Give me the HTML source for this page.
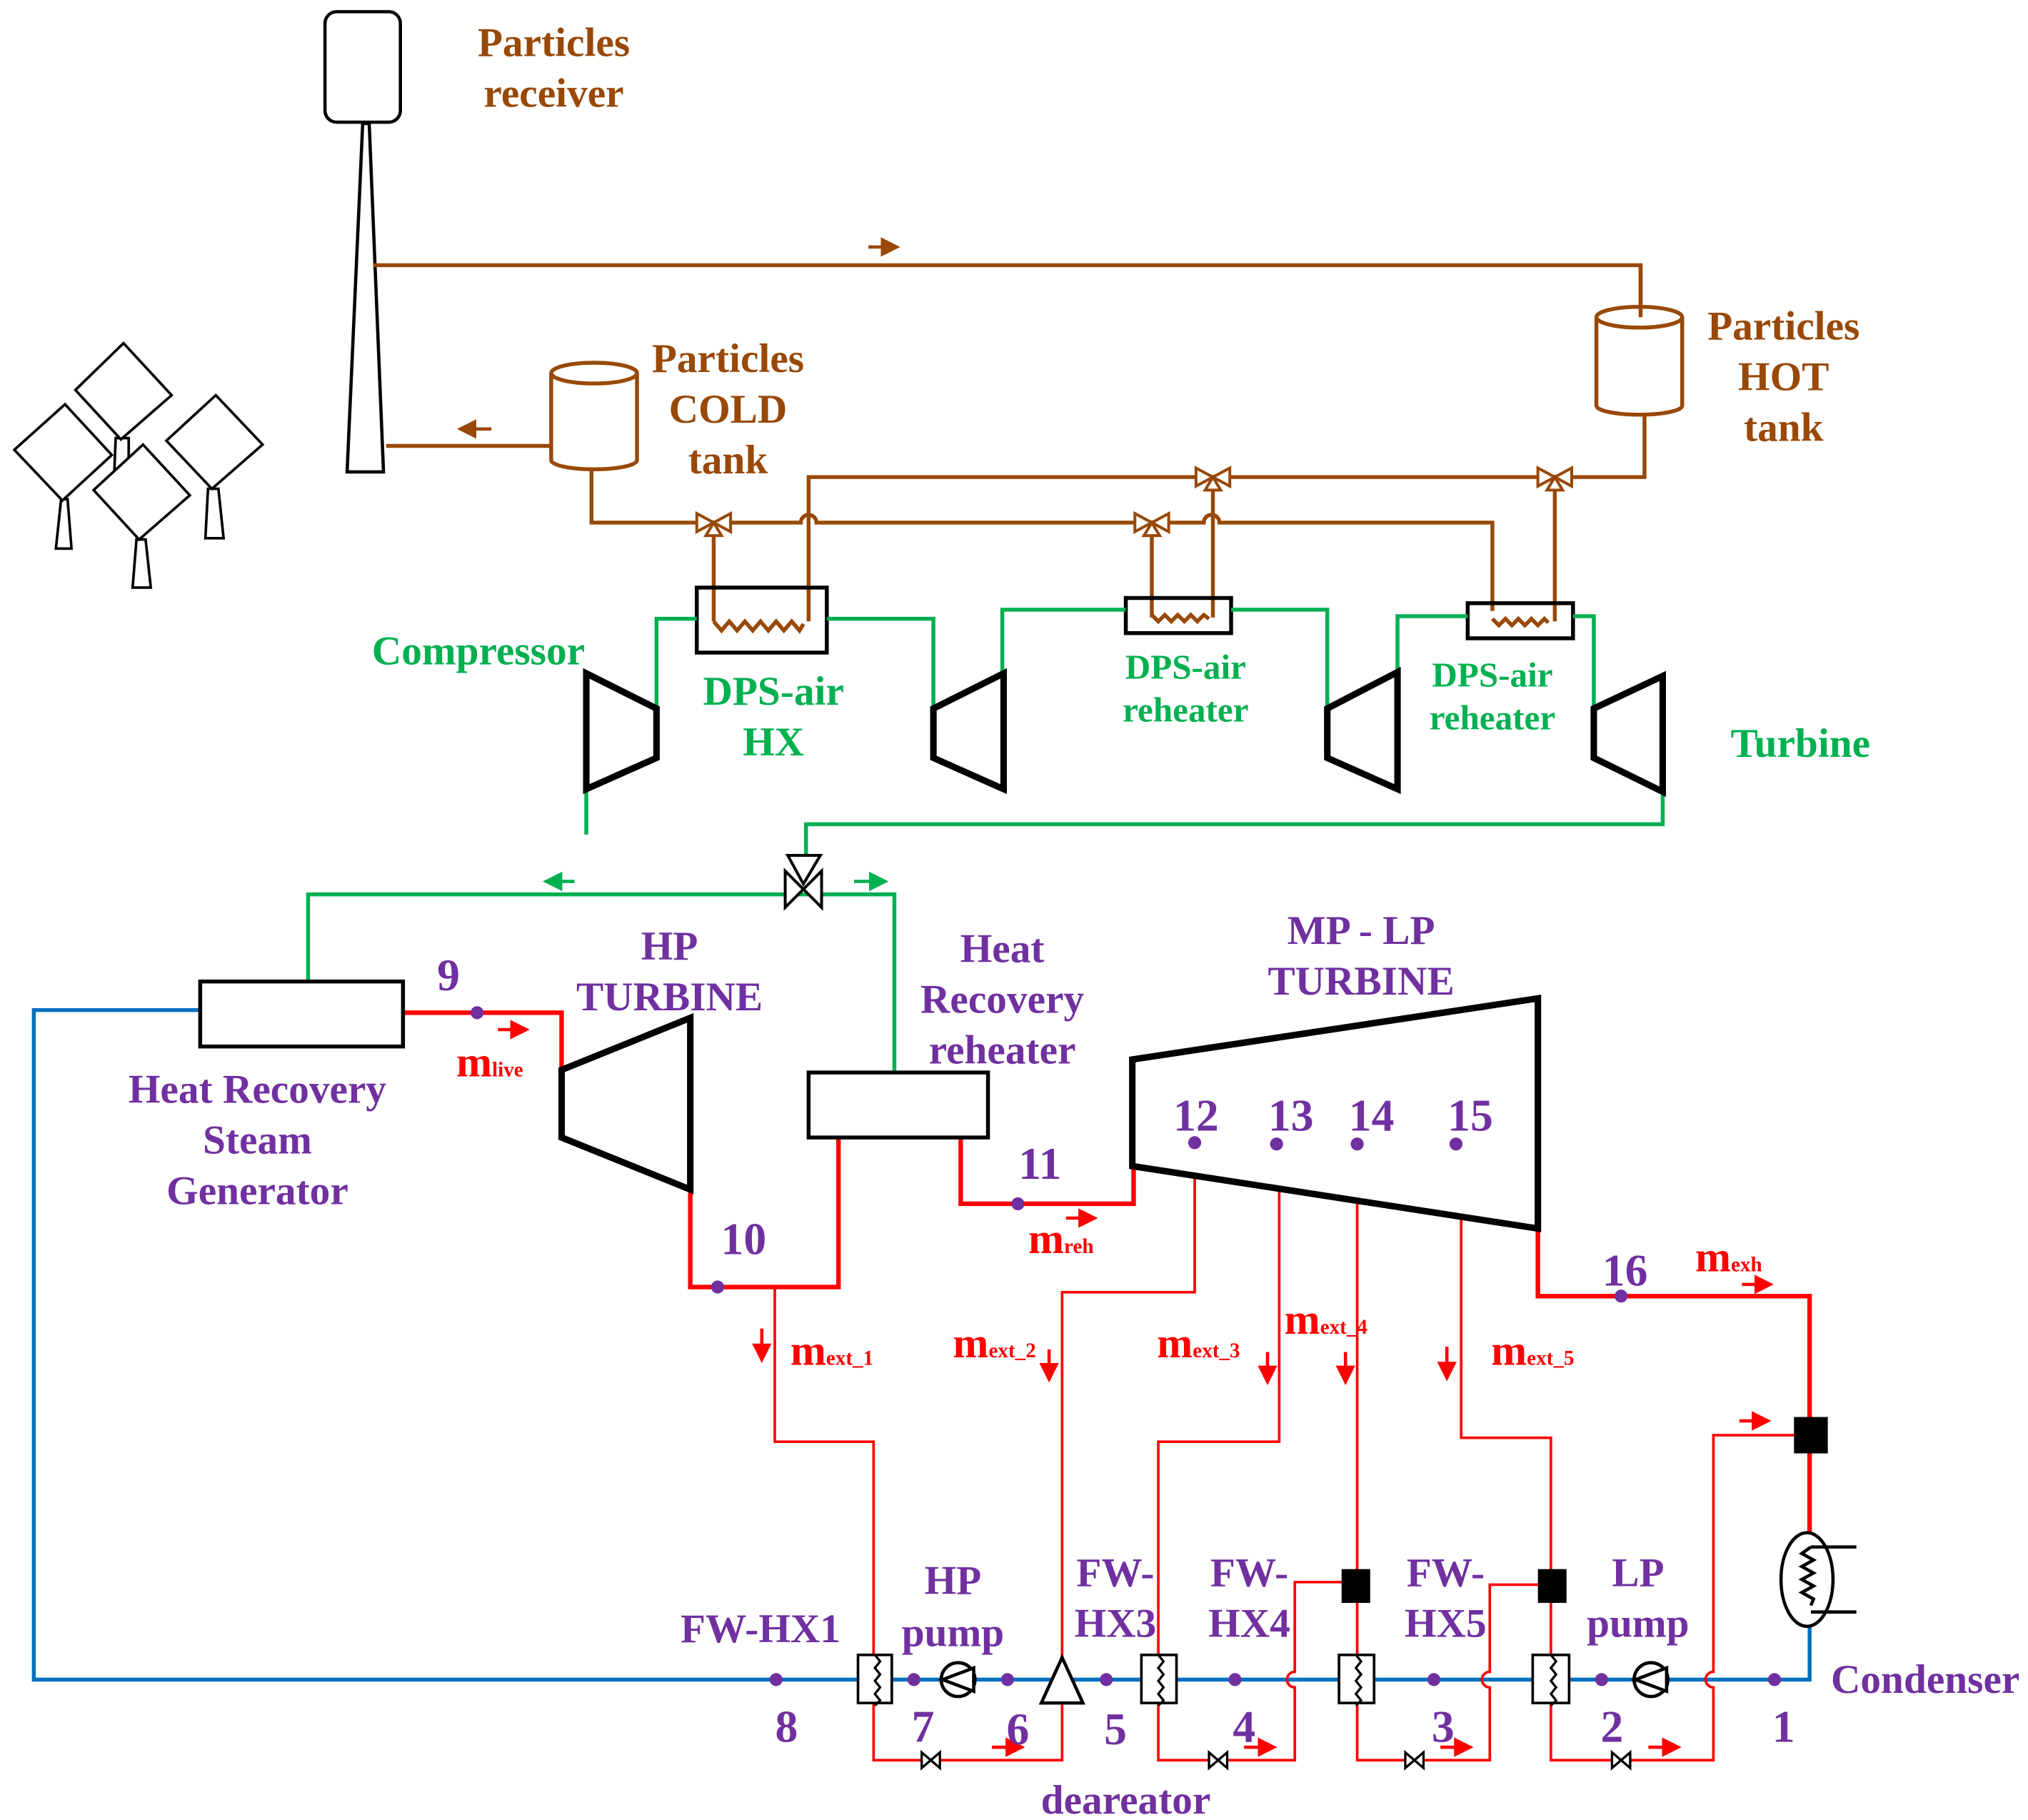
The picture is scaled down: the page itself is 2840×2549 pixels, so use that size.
<!DOCTYPE html>
<html><head><meta charset="utf-8"><style>
html,body{margin:0;padding:0;background:#fff;}
svg{display:block;}
text{font-family:"Liberation Serif",serif;font-weight:bold;}
</style></head><body>
<svg width="2840" height="2549" viewBox="0 0 1560 1400" preserveAspectRatio="none" xmlns="http://www.w3.org/2000/svg">
<defs>
<marker id="ar" markerWidth="6" markerHeight="6" refX="5" refY="3" orient="auto" markerUnits="strokeWidth"><path d="M0,0 L6,3 L0,6 z" fill="context-stroke"/></marker>
</defs>
<rect width="1560" height="1400" fill="#fff"/>

<!-- heliostats -->
<g stroke="#000" stroke-width="2" fill="#fff">
<polygon points="89,337 99,337 99,361 88,361"/>
<polygon points="95,264 132,304 93,338 58,300"/>
<polygon points="47,384 52,384 55,422 43,422"/>
<polygon points="50,311 86,350 48,385 11,346"/>
<polygon points="160,376 168,376 172,414 158,414"/>
<polygon points="166,304 202,342 163,376 128,339"/>
<polygon points="105,415 112,415 116,452 102,452"/>
<polygon points="110,342 146,381 107,415 72,377"/>
</g>

<!-- receiver + tower -->
<rect x="250" y="9" width="58" height="85" rx="9" fill="#fff" stroke="#000" stroke-width="2.5"/>
<polygon points="279,95 284,95 295,363 267,363" fill="#fff" stroke="#000" stroke-width="2.5"/>

<!-- brown particle loop -->
<g stroke="#984807" stroke-width="3" fill="none">
<path d="M287,204 H1262 V240"/>
<path d="M297,343 H425"/>
<path d="M455,362 V402 H616 A6,6 0 0 1 628,402 H926 A6,6 0 0 1 938,402 H1148 V470"/>
<path d="M1265,320 V367 H622 V478"/>
<path d="M549,402 V478"/>
<path d="M886,402 V475"/>
<path d="M933,367 V475"/>
<path d="M1196,367 V478"/>
<path d="M549,478 l6,7 6,-7 6,7 6,-7 6,7 6,-7 6,7 6,-7 6,7 6,-7 6,7 3,-5"/>
<path d="M886,473 l5,5 5,-5 5,5 5,-5 5,5 5,-5 5,5 5,-5 4,3"/>
<path d="M1148,476 l5,5 5,-5 5,5 5,-5 5,5 5,-5 5,5 5,-5 3,3"/>
<path d="M424,287 V354 A33,7 0 0 0 490,354 V287" fill="#fff"/>
<ellipse cx="457" cy="287" rx="33" ry="8" fill="#fff"/>
<path d="M1228,244 V312 A33,7 0 0 0 1294,312 V244" fill="#fff"/>
<ellipse cx="1261" cy="244" rx="33" ry="8" fill="#fff"/>
<path d="M1262,204 V244"/>
</g>
<g stroke="#984807" stroke-width="2.5" fill="#984807">
<path d="M668,190 H690" marker-end="url(#ar)"/>
<path d="M378,330 H354" marker-end="url(#ar)"/>
</g>
<g stroke="#984807" stroke-width="2.2" fill="#fff">
<g transform="translate(549,402)"><polygon points="-13,-7 13,7 13,-7 -13,7"/><polygon points="0,0 6,10 -6,10"/></g>
<g transform="translate(886,402)"><polygon points="-13,-7 13,7 13,-7 -13,7"/><polygon points="0,0 6,10 -6,10"/></g>
<g transform="translate(933,367)"><polygon points="-13,-7 13,7 13,-7 -13,7"/><polygon points="0,0 6,10 -6,10"/></g>
<g transform="translate(1196,367)"><polygon points="-13,-7 13,7 13,-7 -13,7"/><polygon points="0,0 6,10 -6,10"/></g>
</g>

<g stroke="#000" stroke-width="3" fill="none">
<rect x="536" y="452" width="100" height="50"/>
<rect x="866" y="460" width="81" height="27"/>
<rect x="1129" y="464" width="81" height="27"/>
</g>

<!-- green air loop -->
<g stroke="#00B050" stroke-width="3" fill="none">
<path d="M505,548 V476 H536"/>
<path d="M636,476 H718 V545"/>
<path d="M771,518 V469 H866"/>
<path d="M947,469 H1021 V545"/>
<path d="M1075,517 V474 H1129"/>
<path d="M1210,474 H1226 V545"/>
<path d="M1279,609 V634 H620 V660"/>
<path d="M451,607 V642"/>
<path d="M237,755 V688 H688 V825"/>
</g>
<g stroke="#00B050" stroke-width="2.5" fill="#00B050">
<path d="M442,678 H420" marker-end="url(#ar)"/>
<path d="M657,678 H681" marker-end="url(#ar)"/>
</g>
<g stroke="#000" stroke-width="5" fill="none">
<polygon points="451,518 505,545 505,583 451,607"/>
<polygon points="718,545 772,518 772,607 718,583"/>
<polygon points="1021,545 1075,517 1075,607 1021,583"/>
<polygon points="1226,545 1279,520 1279,609 1226,583"/>
</g>
<g stroke="#000" stroke-width="2.2" fill="#fff">
<polygon points="606,658 631,658 618,680"/>
<polygon points="604,670 632,698 632,670 604,698"/>
</g>

<!-- blue water line -->
<path d="M154,777 H26 V1292 H1392 V1250" stroke="#0070C0" stroke-width="3" fill="none"/>

<!-- red steam -->
<g stroke="#FF0000" stroke-width="3.5" fill="none">
<path d="M310,779 H432 V823"/>
<path d="M531,915 V990 H645 V875"/>
<path d="M739,875 V926 H872 V897"/>
<path d="M1183,945 V997 H1392 V1092"/>
<path d="M1392,1118 V1180"/>
</g>
<g stroke="#FF0000" stroke-width="2" fill="none">
<path d="M596,990 V1109 H672 V1354 H817 V1310"/>
<path d="M919,903 V994 H817 V1275"/>
<path d="M984,912 V1109 H891 V1354 H996 V1298 A6,6 0 0 1 996,1286 V1217 H1032"/>
<path d="M1044,925 V1354 H1146 V1298 A6,6 0 0 1 1146,1286 V1219 H1183"/>
<path d="M1124,938 V1106 H1193 V1354 H1318 V1298 A6,6 0 0 1 1318,1286 V1104 H1380"/>
</g>
<g stroke="#FF0000" stroke-width="2.5" fill="#FF0000">
<path d="M383,792 H405" marker-end="url(#ar)"/>
<path d="M820,937 H842" marker-end="url(#ar)"/>
<path d="M1340,988 H1362" marker-end="url(#ar)"/>
<path d="M1338,1093 H1360" marker-end="url(#ar)"/>
<path d="M586,1022 V1046" marker-end="url(#ar)"/>
<path d="M807,1038 V1061" marker-end="url(#ar)"/>
<path d="M975,1040 V1063" marker-end="url(#ar)"/>
<path d="M1035,1040 V1063" marker-end="url(#ar)"/>
<path d="M1113,1036 V1060" marker-end="url(#ar)"/>
<path d="M763,1344 H786" marker-end="url(#ar)"/>
<path d="M957,1344 H980" marker-end="url(#ar)"/>
<path d="M1108,1344 H1131" marker-end="url(#ar)"/>
<path d="M1268,1344 H1291" marker-end="url(#ar)"/>
</g>

<g stroke="#000" stroke-width="3" fill="#fff">
<rect x="154" y="755" width="156" height="50"/>
<rect x="622" y="825" width="138" height="50"/>
</g>
<g stroke="#000" stroke-width="5" fill="none">
<polygon points="432,823 531,783 531,915 432,875"/>
<polygon points="871,815 1183,768 1183,945 871,897"/>
</g>
<g fill="#000">
<rect x="1032" y="1207" width="22" height="26"/>
<rect x="1183" y="1207" width="22" height="26"/>
<rect x="1380" y="1090" width="26" height="28"/>
</g>
<g stroke="#000" stroke-width="2.5" fill="#fff">
<ellipse cx="1390" cy="1215" rx="20" ry="36"/>
<path d="M1393,1190 H1428 M1393,1240 H1428" fill="none"/>
<path d="M1393,1190 l-7,5 9,5 -9,5 9,5 -9,5 9,5 -9,5 9,5 -2,5" fill="none"/>
</g>
<g stroke="#000" stroke-width="2" fill="#fff">
<rect x="660" y="1273" width="26" height="37"/>
<rect x="878" y="1273" width="27" height="37"/>
<rect x="1030" y="1273" width="27" height="37"/>
<rect x="1179" y="1273" width="28" height="37"/>
</g>
<g stroke="#000" stroke-width="1.8" fill="none">
<path d="M673,1273 l4,5 -4,5 4,5 -4,5 4,5 -4,5 4,5 -4,4"/>
<path d="M891,1273 l4,5 -4,5 4,5 -4,5 4,5 -4,5 4,5 -4,4"/>
<path d="M1043,1273 l4,5 -4,5 4,5 -4,5 4,5 -4,5 4,5 -4,4"/>
<path d="M1193,1273 l4,5 -4,5 4,5 -4,5 4,5 -4,5 4,5 -4,4"/>
</g>
<g stroke="#000" stroke-width="2.5" fill="#fff">
<circle cx="737" cy="1292" r="13"/>
<polygon points="725,1292 749,1283 749,1301"/>
<circle cx="1270" cy="1292" r="13"/>
<polygon points="1258,1292 1282,1283 1282,1301"/>
<polygon points="801,1310 833,1310 817,1275"/>
</g>
<g stroke="#000" stroke-width="1.8" fill="#fff">
<polygon points="709,1348 723,1360 723,1348 709,1360"/>
<polygon points="930,1348 944,1360 944,1348 930,1360"/>
<polygon points="1081,1348 1095,1360 1095,1348 1081,1360"/>
<polygon points="1240,1348 1254,1360 1254,1348 1240,1360"/>
</g>

<g fill="#7030A0">
<circle cx="367" cy="779" r="5"/><circle cx="552" cy="990" r="5"/><circle cx="783" cy="926" r="5"/>
<circle cx="919" cy="879" r="5"/><circle cx="982" cy="880" r="5"/><circle cx="1044" cy="880" r="5"/><circle cx="1120" cy="880" r="5"/>
<circle cx="1247" cy="997" r="5"/>
<circle cx="597" cy="1292" r="5"/><circle cx="703" cy="1292" r="5"/><circle cx="775" cy="1292" r="5"/><circle cx="851" cy="1292" r="5"/>
<circle cx="950" cy="1292" r="5"/><circle cx="1103" cy="1292" r="5"/><circle cx="1232" cy="1292" r="5"/><circle cx="1365" cy="1292" r="5"/>
</g>

<g fill="#984807" font-size="31.5" text-anchor="middle" dominant-baseline="central">
<text x="426" y="33">Particles</text><text x="426" y="72">receiver</text>
<text x="560" y="276">Particles</text><text x="560" y="315">COLD</text><text x="560" y="354">tank</text>
<text x="1372" y="251">Particles</text><text x="1372" y="290">HOT</text><text x="1372" y="329">tank</text>
</g>
<g fill="#00B050" text-anchor="middle" dominant-baseline="central">
<text x="368" y="501" font-size="31.5">Compressor</text>
<text x="595" y="532" font-size="31.5">DPS-air</text><text x="595" y="571" font-size="31.5">HX</text>
<text x="912" y="513" font-size="27">DPS-air</text><text x="912" y="546" font-size="27">reheater</text>
<text x="1148" y="519" font-size="27">DPS-air</text><text x="1148" y="552" font-size="27">reheater</text>
<text x="1385" y="572" font-size="31.5">Turbine</text>
</g>
<g fill="#7030A0" font-size="31.5" text-anchor="middle" dominant-baseline="central">
<text x="515" y="728">HP</text><text x="515" y="767">TURBINE</text>
<text x="771" y="730">Heat</text><text x="771" y="769">Recovery</text><text x="771" y="808">reheater</text>
<text x="198" y="838">Heat Recovery</text><text x="198" y="877">Steam</text><text x="198" y="916">Generator</text>
<text x="1047" y="716">MP - LP</text><text x="1047" y="755">TURBINE</text>
<text x="585" y="1253">FW-HX1</text>
<text x="733" y="1216">HP</text><text x="733" y="1256">pump</text>
<text x="858" y="1210">FW-</text><text x="858" y="1249">HX3</text>
<text x="961" y="1210">FW-</text><text x="961" y="1249">HX4</text>
<text x="1112" y="1210">FW-</text><text x="1112" y="1249">HX5</text>
<text x="1260" y="1210">LP</text><text x="1260" y="1249">pump</text>
<text x="866" y="1385">deareator</text>
<text x="1481" y="1292">Condenser</text>
</g>
<g fill="#7030A0" font-size="35" text-anchor="middle" dominant-baseline="central">
<text x="345" y="750">9</text><text x="572" y="953">10</text><text x="800" y="895">11</text>
<text x="920" y="858">12</text><text x="993" y="858">13</text><text x="1055" y="858">14</text><text x="1131" y="858">15</text>
<text x="1250" y="977">16</text>
<text x="605" y="1328">8</text><text x="710" y="1328">7</text><text x="783" y="1330">6</text><text x="858" y="1330">5</text>
<text x="957" y="1328">4</text><text x="1110" y="1328">3</text><text x="1240" y="1328">2</text><text x="1372" y="1328">1</text>
</g>
<g fill="#FF0000">
<text x="351" y="828" font-size="33">m<tspan font-size="16">live</tspan></text>
<text x="791" y="964" font-size="33">m<tspan font-size="16">reh</tspan></text>
<text x="1304" y="978" font-size="33">m<tspan font-size="16">exh</tspan></text>
<text x="608" y="1050" font-size="33">m<tspan font-size="16">ext_1</tspan></text>
<text x="733" y="1044" font-size="33">m<tspan font-size="16">ext_2</tspan></text>
<text x="890" y="1044" font-size="33">m<tspan font-size="16">ext_3</tspan></text>
<text x="988" y="1026" font-size="33">m<tspan font-size="16">ext_4</tspan></text>
<text x="1147" y="1050" font-size="33">m<tspan font-size="16">ext_5</tspan></text>
</g>
</svg>
</body></html>
